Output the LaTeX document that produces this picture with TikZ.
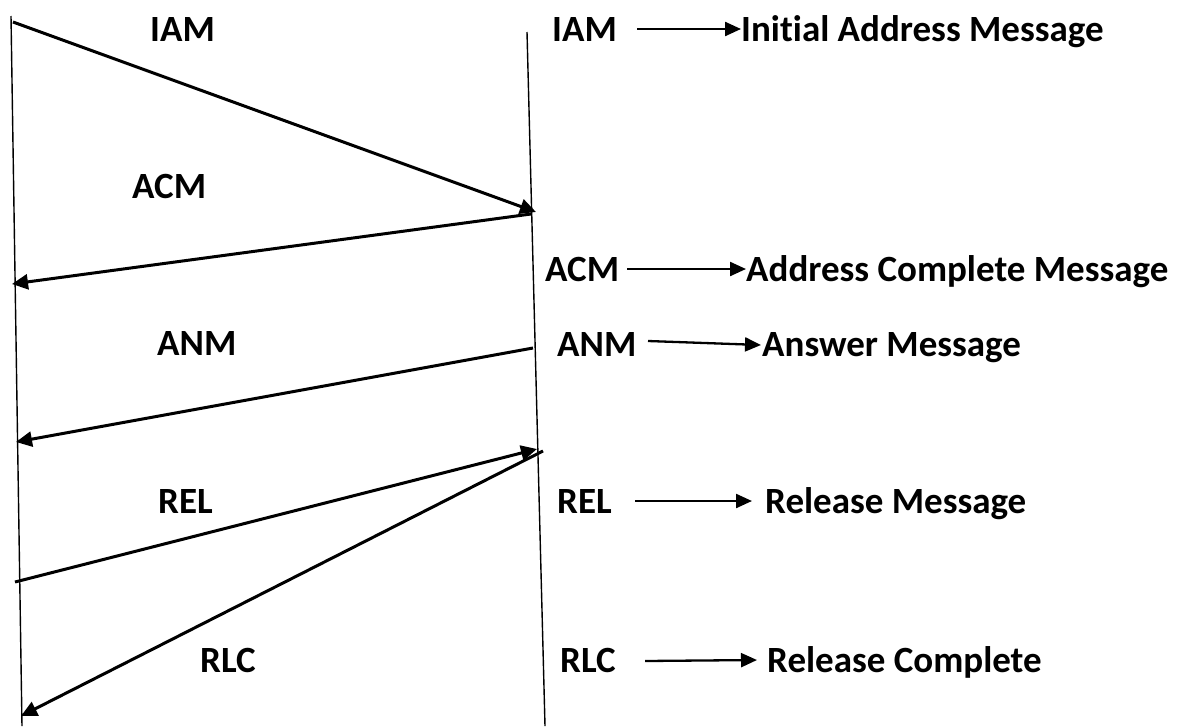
\documentclass[tikz,border=0pt]{standalone}
\usepackage{fontspec}
\setmainfont{Carlito}[Ligatures=NoCommon]
\usetikzlibrary{arrows.meta}

\begin{document}
\begin{tikzpicture}[x=1pt,y=-1pt,
  lifeline/.style={line width=1.4pt},
  msg/.style={line width=3pt,-{Triangle[length=16pt,width=15pt]}},
  key/.style={line width=2.3pt,-{Triangle[length=16pt,width=14pt]}},
  lbl/.style={font=\fontsize{37}{40}\selectfont\bfseries,inner sep=0pt,anchor=base west}]
\useasboundingbox (0,0) rectangle (1182,726);

% lifelines of the two exchanges
\coordinate (Ltop) at (11,16);
\coordinate (Lbot) at (22,726);
\coordinate (Rtop) at (527,32);
\coordinate (Rbot) at (545,726);
\draw[lifeline] (Ltop) -- (Lbot);
\draw[lifeline] (Rtop) -- (Rbot);

% message end points
\coordinate (iamS) at (13,22);
\coordinate (iamE) at (536,212);
\coordinate (acmS) at (531,214);
\coordinate (acmE) at (12,284);
\coordinate (anmS) at (533,348);
\coordinate (anmE) at (16,442);
\coordinate (relS) at (15,582);
\coordinate (relE) at (537,449);
\coordinate (rlcS) at (543,451);
\coordinate (rlcE) at (21,716);

\draw[msg] (iamS) -- (iamE);
\draw[msg] (acmS) -- (acmE);
\draw[msg] (anmS) -- (anmE);
\draw[msg] (relS) -- (relE);
\draw[msg] (rlcS) -- (rlcE);

% message labels
\node[lbl] (iamL) at (150,41) {IAM};
\node[lbl] (acmL) at (132,198) {ACM};
\node[lbl] (anmL) at (157,355) {ANM};
\node[lbl] (relL) at (158,513) {REL};
\node[lbl] (rlcL) at (200,672) {RLC};

% key of abbreviations
\node[lbl] (iamK) at (552,41) {IAM};
\node[lbl] (iamD) at (741,41) {Initial Address Message};
\coordinate (k1s) at (637,29);
\coordinate (k1e) at (741,29);
\draw[key] (k1s) -- (k1e);

\node[lbl] (acmK) at (545,281) {ACM};
\node[lbl] (acmD) at (746,281) {Address Complete Message};
\coordinate (k2s) at (627,269);
\coordinate (k2e) at (746,269);
\draw[key] (k2s) -- (k2e);

\node[lbl] (anmK) at (557,356) {ANM};
\node[lbl] (anmD) at (762,356) {Answer Message};
\coordinate (k3s) at (648,341);
\coordinate (k3e) at (761,345);
\draw[key] (k3s) -- (k3e);

\node[lbl] (relK) at (557,513) {REL};
\node[lbl] (relD) at (765,513) {Release Message};
\coordinate (k4s) at (635,501);
\coordinate (k4e) at (752,501);
\draw[key] (k4s) -- (k4e);

\node[lbl] (rlcK) at (560,672) {RLC};
\node[lbl] (rlcD) at (767,672) {Release Complete};
\coordinate (k5s) at (645,661);
\coordinate (k5e) at (757,660);
\draw[key] (k5s) -- (k5e);
\end{tikzpicture}
\end{document}
